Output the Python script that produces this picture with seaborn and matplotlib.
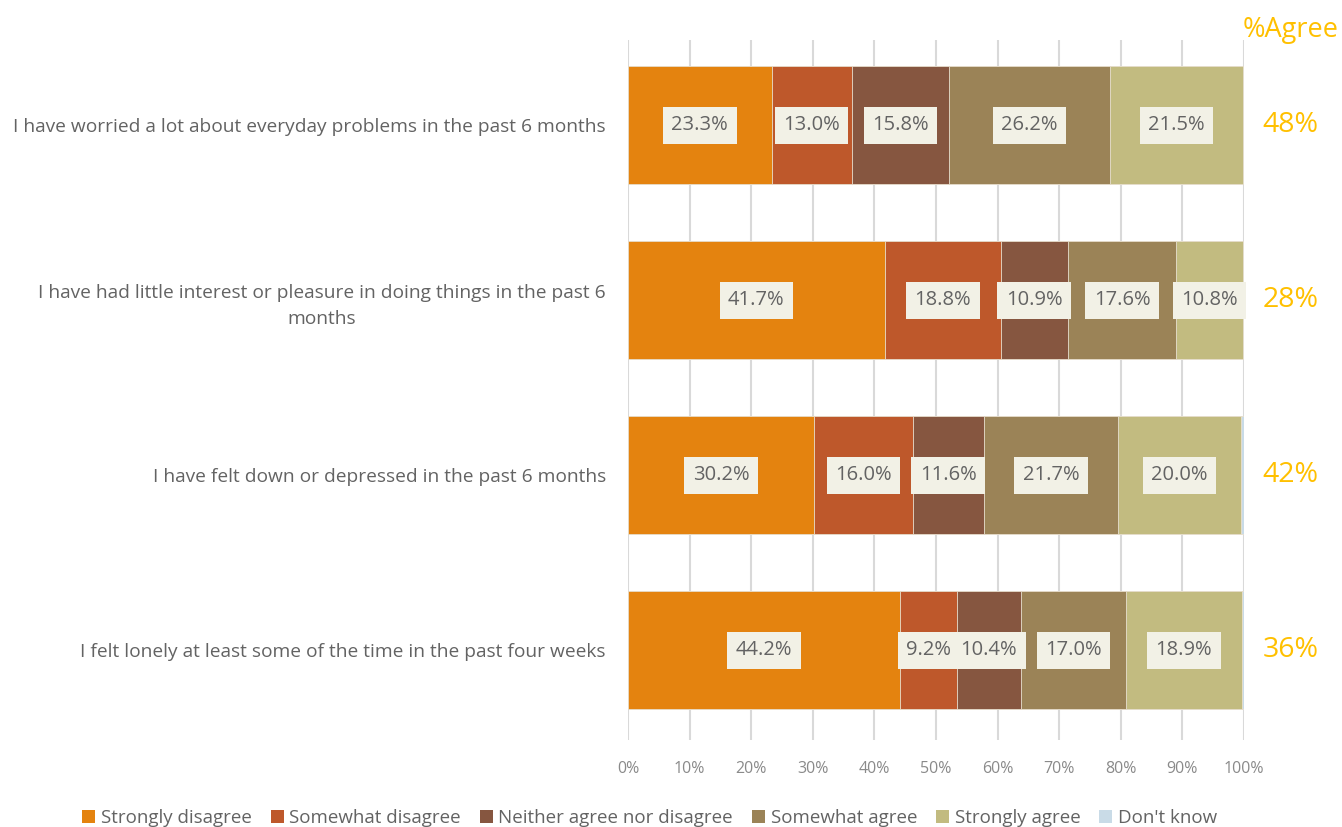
import numpy as np
import pandas as pd
import matplotlib
matplotlib.use("Agg")
import matplotlib.pyplot as plt
from matplotlib.patches import Patch
import seaborn as sns

# Survey statements and response shares (%)
statements = [
    "I have worried a lot about everyday problems in the past 6 months",
    "I have had little interest or pleasure in doing things in the past 6\nmonths",
    "I have felt down or depressed in the past 6 months",
    "I felt lonely at least some of the time in the past four weeks",
]
responses = ["Strongly disagree", "Somewhat disagree", "Neither agree nor disagree",
             "Somewhat agree", "Strongly agree", "Don't know"]
strongly_disagree = [23.3, 41.7, 30.2, 44.2]
somewhat_disagree = [13.0, 18.8, 16.0, 9.2]
neither = [15.8, 10.9, 11.6, 10.4]
somewhat_agree = [26.2, 17.6, 21.7, 17.0]
strongly_agree = [21.5, 10.8, 20.0, 18.9]
dont_know = [0.2, 0.2, 0.5, 0.3]
pct_agree = ["48%", "28%", "42%", "36%"]
x_ticks = [0, 10, 20, 30, 40, 50, 60, 70, 80, 90, 100]

colors = ["#E4830F", "#BE582B", "#865640", "#9B8357", "#C2BB80", "#C9DBE7"]

series = [strongly_disagree, somewhat_disagree, neither, somewhat_agree,
          strongly_agree, dont_know]

sns.set_theme(style="white")
plt.rcParams["font.family"] = ["Open Sans", "DejaVu Sans"]

text_grey = "#636363"

fig = plt.figure(figsize=(13.42, 8.27), dpi=100)
ax = fig.add_axes([628 / 1342, 1 - 740 / 827, 616 / 1342, 700 / 827])

# Cumulative totals so each layer can be drawn on top of the next
vals = np.array(series)
cum = np.cumsum(vals, axis=0)

for i in range(len(series) - 1, -1, -1):
    df = pd.DataFrame({"stmt": statements, "val": cum[i]})
    sns.barplot(data=df, x="val", y="stmt", orient="h", color=colors[i],
                width=0.67, saturation=1, edgecolor="#E8E0D0", linewidth=0.6,
                ax=ax, zorder=2)

# Segment value labels
for i in range(len(series) - 1):
    for j in range(len(statements)):
        v = vals[i, j]
        left = cum[i, j] - v
        ax.text(left + v / 2, j, f"{v:.1f}%", ha="center", va="center",
                fontsize=14.5, color=text_grey, zorder=5,
                bbox=dict(boxstyle="square,pad=0.42", fc="#F2F1E6", ec="none"))

ax.set_xlim(0, 100)
ax.set_ylim(3.514, -0.486)
ax.set_xticks(x_ticks)
ax.set_xticklabels([f"{t}%" for t in x_ticks], fontsize=11.5, color="#8A8A8A")
ax.tick_params(axis="x", length=0, pad=15)
ax.tick_params(axis="y", length=0, pad=16)
for lbl in ax.get_yticklabels():
    lbl.set_fontsize(13.8)
    lbl.set_color(text_grey)
    lbl.set_multialignment("center")
    lbl.set_linespacing(1.55)
ax.set_xlabel("")
ax.set_ylabel("")
ax.grid(axis="x", color="#D9D9D9", linewidth=1.5, zorder=0)
ax.grid(axis="y", visible=False)
ax.set_axisbelow(True)
for s in ax.spines.values():
    s.set_visible(False)

# %Agree column
for j, a in enumerate(pct_agree):
    ax.text(107.5, j, a, ha="center", va="center", fontsize=20.5,
            color="#FFC000", transform=ax.transData, clip_on=False)
fig.text(1291 / 1342, 1 - 30 / 827, "%Agree", ha="center", va="center",
         fontsize=19.5, color="#FFC000")

handles = [Patch(facecolor=c, edgecolor="none") for c in colors]
leg = fig.legend(handles, responses, loc="center", bbox_to_anchor=(0.484, 1 - 818 / 827),
                 ncol=6, frameon=False, fontsize=13.5, handlelength=0.7,
                 handleheight=0.7, handletextpad=0.3, columnspacing=1.0)
for t in leg.get_texts():
    t.set_color(text_grey)

fig.savefig("out.png", dpi=100)
